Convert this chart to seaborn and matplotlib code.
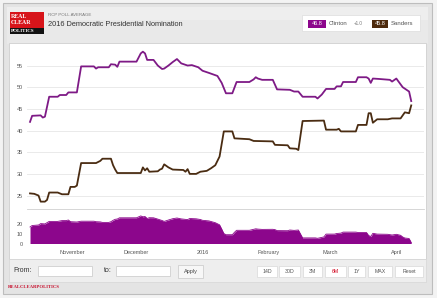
import numpy as np
import pandas as pd
import matplotlib
matplotlib.use("Agg")
import matplotlib.pyplot as plt
import matplotlib.dates as mdates
from matplotlib.patches import Rectangle
import seaborn as sns

# ---------------- data ----------------
clinton_dates = ["2015-10-12", "2015-10-13", "2015-10-17", "2015-10-18", "2015-10-19", "2015-10-21",
                 "2015-10-25", "2015-10-26", "2015-10-29", "2015-10-30", "2015-11-03", "2015-11-05",
                 "2015-11-11", "2015-11-12", "2015-11-13", "2015-11-18", "2015-11-19", "2015-11-21",
                 "2015-11-22", "2015-11-23", "2015-12-01", "2015-12-03", "2015-12-04", "2015-12-05",
                 "2015-12-06", "2015-12-09", "2015-12-11", "2015-12-13", "2015-12-14", "2015-12-16",
                 "2015-12-18", "2015-12-20", "2015-12-22", "2015-12-25", "2015-12-27", "2015-12-30",
                 "2016-01-01", "2016-01-04", "2016-01-08", "2016-01-10", "2016-01-12", "2016-01-15",
                 "2016-01-17", "2016-01-23", "2016-01-25", "2016-01-26", "2016-01-27", "2016-01-29",
                 "2016-02-03", "2016-02-05", "2016-02-11", "2016-02-13", "2016-02-15", "2016-02-17",
                 "2016-02-23", "2016-02-24", "2016-02-26", "2016-02-28", "2016-03-03", "2016-03-04",
                 "2016-03-06", "2016-03-07", "2016-03-13", "2016-03-14", "2016-03-18", "2016-03-19",
                 "2016-03-20", "2016-03-21", "2016-03-24", "2016-03-29", "2016-03-30", "2016-04-01",
                 "2016-04-04", "2016-04-07", "2016-04-08"]
clinton_values = [42.0, 43.4, 43.5, 43.0, 43.2, 47.8,
                  47.8, 48.2, 48.2, 48.8, 48.8, 54.8,
                  54.8, 54.3, 54.6, 54.6, 55.3, 55.2,
                  54.7, 55.9, 55.9, 57.8, 58.2, 57.8,
                  56.3, 56.3, 55.0, 54.2, 54.3, 55.0,
                  55.8, 56.5, 55.5, 55.0, 55.1, 54.6,
                  53.8, 53.3, 52.6, 51.0, 48.6, 48.6,
                  51.2, 51.2, 51.8, 52.3, 52.0, 51.7,
                  51.7, 49.5, 49.4, 49.0, 49.0, 47.8,
                  47.8, 47.4, 48.3, 49.6, 49.6, 50.2,
                  50.2, 51.2, 51.2, 52.3, 52.3, 52.0,
                  51.0, 52.0, 51.9, 51.7, 51.3, 52.0,
                  50.0, 49.0, 46.8]

sanders_dates = ["2015-10-12", "2015-10-14", "2015-10-16", "2015-10-17", "2015-10-19", "2015-10-20",
                 "2015-10-21", "2015-10-25", "2015-10-27", "2015-10-30", "2015-10-31", "2015-11-02",
                 "2015-11-03", "2015-11-05", "2015-11-12", "2015-11-14", "2015-11-15", "2015-11-19",
                 "2015-11-20", "2015-11-21", "2015-11-22", "2015-12-03", "2015-12-04", "2015-12-05",
                 "2015-12-06", "2015-12-07", "2015-12-11", "2015-12-12", "2015-12-13", "2015-12-14",
                 "2015-12-16", "2015-12-18", "2015-12-23", "2015-12-24", "2015-12-25", "2015-12-26",
                 "2015-12-29", "2015-12-31", "2016-01-03", "2016-01-05", "2016-01-07", "2016-01-09",
                 "2016-01-11", "2016-01-15", "2016-01-16", "2016-01-23", "2016-01-25", "2016-02-03",
                 "2016-02-04", "2016-02-10", "2016-02-11", "2016-02-14", "2016-02-15", "2016-02-17",
                 "2016-02-27", "2016-02-28", "2016-03-04", "2016-03-05", "2016-03-06", "2016-03-13",
                 "2016-03-14", "2016-03-18", "2016-03-19", "2016-03-20", "2016-03-21", "2016-03-23",
                 "2016-03-28", "2016-03-30", "2016-04-03", "2016-04-04", "2016-04-05", "2016-04-07",
                 "2016-04-08"]
sanders_values = [25.5, 25.4, 25.0, 23.6, 23.6, 24.0,
                  25.7, 25.7, 25.3, 25.3, 27.0, 27.0,
                  27.3, 32.5, 32.5, 33.0, 33.5, 33.5,
                  32.0, 31.0, 30.2, 30.2, 31.5, 30.8,
                  31.3, 30.5, 30.6, 31.0, 31.2, 32.2,
                  31.5, 31.0, 30.9, 30.5, 31.1, 30.0,
                  30.0, 30.5, 30.7, 31.3, 32.0, 34.0,
                  39.8, 39.8, 38.2, 38.0, 37.6, 37.5,
                  36.7, 36.6, 35.9, 35.8, 35.5, 42.2,
                  42.3, 40.2, 40.2, 40.4, 39.8, 39.8,
                  41.3, 41.3, 44.0, 44.0, 41.8, 42.6,
                  42.6, 42.8, 42.8, 43.5, 44.2, 44.0,
                  45.8]

spread_dates = ["2015-10-12", "2015-10-13", "2015-10-16", "2015-10-17", "2015-10-19", "2015-10-21",
                "2015-10-25", "2015-10-27", "2015-10-29", "2015-10-30", "2015-10-31", "2015-11-03",
                "2015-11-05", "2015-11-11", "2015-11-12", "2015-11-14", "2015-11-15", "2015-11-18",
                "2015-11-19", "2015-11-20", "2015-11-21", "2015-11-22", "2015-11-23", "2015-12-01",
                "2015-12-03", "2015-12-04", "2015-12-05", "2015-12-06", "2015-12-07", "2015-12-09",
                "2015-12-11", "2015-12-13", "2015-12-14", "2015-12-16", "2015-12-18", "2015-12-20",
                "2015-12-22", "2015-12-25", "2015-12-26", "2015-12-29", "2015-12-31", "2016-01-01",
                "2016-01-04", "2016-01-05", "2016-01-07", "2016-01-09", "2016-01-10", "2016-01-11",
                "2016-01-12", "2016-01-15", "2016-01-16", "2016-01-17", "2016-01-23", "2016-01-25",
                "2016-01-26", "2016-01-27", "2016-01-29", "2016-02-03", "2016-02-04", "2016-02-05",
                "2016-02-10", "2016-02-11", "2016-02-13", "2016-02-15", "2016-02-17", "2016-02-23",
                "2016-02-24", "2016-02-26", "2016-02-27", "2016-02-28", "2016-03-03", "2016-03-04",
                "2016-03-06", "2016-03-07", "2016-03-13", "2016-03-14", "2016-03-18", "2016-03-19",
                "2016-03-20", "2016-03-21", "2016-03-23", "2016-03-28", "2016-03-30", "2016-04-01",
                "2016-04-03", "2016-04-04", "2016-04-05", "2016-04-07", "2016-04-08"]
spread_values = [16.5, 18.0, 18.5, 19.9, 19.6, 22.1,
                 22.1, 22.9, 22.9, 23.5, 21.8, 21.5,
                 22.3, 22.3, 21.8, 21.6, 21.1, 21.1,
                 21.8, 23.2, 24.2, 24.5, 25.7, 25.7,
                 27.6, 26.7, 27.0, 25.0, 25.8, 25.7,
                 24.4, 23.0, 22.1, 23.5, 24.8, 25.5,
                 24.6, 23.9, 25.0, 24.7, 24.0, 23.2,
                 22.6, 22.0, 20.8, 18.7, 14.5, 10.0,
                 8.8, 8.8, 11.2, 13.2, 13.2, 14.2,
                 14.7, 14.4, 14.1, 14.2, 13.9, 12.9,
                 12.8, 13.5, 13.1, 13.5, 5.6, 5.6,
                 5.2, 6.1, 6.6, 9.4, 9.4, 10.0,
                 10.4, 11.4, 11.4, 11.0, 11.0, 8.0,
                 7.0, 10.2, 9.4, 9.2, 8.5, 9.2,
                 8.2, 6.5, 5.5, 5.0, 1.0]

month_ticks = ["2015-11-01", "2015-12-01", "2016-01-01", "2016-02-01", "2016-03-01", "2016-04-01"]
month_labels = ["November", "December", "2016", "February", "March", "April"]
main_yticks = [25, 30, 35, 40, 45, 50, 55]
spread_yticks = [0, 10, 20]
header_small = "RCP POLL AVERAGE"
header_title = "2016 Democratic Presidential Nomination"
clinton_latest = "46.8"
sanders_latest = "45.8"
clinton_lead = "+1.0"
range_buttons = ["14D", "30D", "3M", "6M", "1Y", "MAX", "Reset"]

# ---------------- styling ----------------
C_CLINTON = "#7e1a86"
C_SANDERS = "#4a2c12"
C_AREA = "#8c068c"
plt.rcParams["font.family"] = ["Liberation Sans", "DejaVu Sans"]

W, H = 437, 298
fig = plt.figure(figsize=(W / 100, H / 100), dpi=100, facecolor="#f3f3f3")


def frect(x0, y0, x1, y1, z=-5, **kw):
    r = Rectangle((x0 / W, 1 - y1 / H), (x1 - x0) / W, (y1 - y0) / H,
                  transform=fig.transFigure, zorder=z, **kw)
    fig.add_artist(r)
    return r


def ftext(x, y, s, **kw):
    kw.setdefault("va", "center")
    kw.setdefault("ha", "left")
    fig.text(x / W, 1 - y / H, s, **kw)


def fbox(x0, y0, x1, y1):
    return [x0 / W, 1 - y1 / H, (x1 - x0) / W, (y1 - y0) / H]


# panels
frect(3, 3, 432, 294, facecolor="#e4e4e4", edgecolor="#bdbdbd", linewidth=0.8, z=-10)
frect(7, 7, 428, 44, facecolor="#e9e9e9", edgecolor="none", z=-9)
frect(7, 7, 428, 20, facecolor="#eeeeee", edgecolor="none", z=-8)
frect(9, 43, 426, 259, facecolor="white", edgecolor="#cfcfcf", linewidth=0.6, z=-7)
frect(9, 259, 426, 282, facecolor="#eeeeee", edgecolor="#d5d5d5", linewidth=0.5, z=-7)

# logo
frect(10, 12, 44, 34, facecolor="#d7141a", edgecolor="none", z=2)
frect(10, 28, 44, 34, facecolor="#111111", edgecolor="none", z=3)
ftext(11, 16.5, "REAL", color="white", fontsize=4.2, family="Liberation Serif", fontweight="bold", zorder=4)
ftext(11, 23, "CLEAR", color="white", fontsize=4.2, family="Liberation Serif", fontweight="bold", zorder=4)
ftext(11, 31.2, "POLITICS", color="white", fontsize=3.6, family="Liberation Serif", fontweight="bold", zorder=4)

# header texts
ftext(48, 15.5, header_small, color="#777777", fontsize=3.2)
ftext(48, 25, header_title, color="#333333", fontsize=5.3)

# legend box
frect(302, 15, 420, 31, facecolor="white", edgecolor="#dddddd", linewidth=0.5, z=1)
frect(308, 19.5, 326, 27.5, facecolor=C_AREA, edgecolor="none", z=2)
ftext(317, 23.6, clinton_latest, color="white", fontsize=4, ha="center", zorder=3)
ftext(329, 23.6, "Clinton", color="#555555", fontsize=4.3, zorder=3)
ftext(354, 23.8, clinton_lead, color="#777777", fontsize=3.3, zorder=3)
frect(372, 19.5, 388, 27.5, facecolor="#4d2a0c", edgecolor="none", z=2)
ftext(380, 23.6, sanders_latest, color="white", fontsize=4, ha="center", zorder=3)
ftext(391, 23.6, "Sanders", color="#555555", fontsize=4.3, zorder=3)

# x limits (dates)
xlim = (mdates.date2num(pd.Timestamp("2015-10-10 14:00")),
        mdates.date2num(pd.Timestamp("2016-04-14 00:00")))

# ---------------- main chart ----------------
ax = fig.add_axes(fbox(27, 43, 424, 209))
ax.set_facecolor("none")
df_c = pd.DataFrame({"date": pd.to_datetime(clinton_dates), "value": clinton_values})
df_s = pd.DataFrame({"date": pd.to_datetime(sanders_dates), "value": sanders_values})
sns.lineplot(data=df_c, x="date", y="value", ax=ax, color=C_CLINTON, linewidth=1.3, zorder=3)
sns.lineplot(data=df_s, x="date", y="value", ax=ax, color=C_SANDERS, linewidth=1.3, zorder=3)
ax.set_xlim(*xlim)
ax.set_ylim(21.9, 60.2)
ax.set_yticks(main_yticks)
ax.set_yticklabels([str(v) for v in main_yticks])
ax.set_xticks([])
ax.grid(axis="y", color="#e6e6e6", linewidth=0.6)
ax.set_axisbelow(True)
ax.tick_params(axis="y", length=0, pad=3, labelsize=4, labelcolor="#555555")
ax.set_xlabel("")
ax.set_ylabel("")
for side in ["top", "left", "right"]:
    ax.spines[side].set_visible(False)
ax.spines["bottom"].set_color("#d0d0d0")
ax.spines["bottom"].set_linewidth(0.6)

# ---------------- spread (navigator) chart ----------------
ax2 = fig.add_axes(fbox(27, 212.5, 424, 243.5))
ax2.set_facecolor("none")
sd = pd.to_datetime(spread_dates)
ax2.fill_between(sd, 0, spread_values, color=C_AREA, linewidth=0, zorder=2)
sns.lineplot(x=sd, y=spread_values, ax=ax2, color=C_AREA, linewidth=0.6, zorder=3)
ax2.set_xlim(*xlim)
ax2.set_ylim(0, 31)
ax2.set_yticks(spread_yticks)
ax2.set_yticklabels([str(v) for v in spread_yticks])
ax2.set_xticks(mdates.date2num(pd.to_datetime(month_ticks)))
ax2.set_xticklabels(month_labels)
ax2.tick_params(axis="both", length=0, labelsize=4, labelcolor="#555555")
ax2.tick_params(axis="y", pad=3)
ax2.tick_params(axis="x", pad=5)
ax2.set_xlabel("")
ax2.set_ylabel("")
for side in ["top", "left", "right", "bottom"]:
    ax2.spines[side].set_visible(False)

# ---------------- control bar ----------------
ftext(13, 270.5, "From:", color="#333333", fontsize=5)
frect(38, 266, 92, 276, facecolor="white", edgecolor="#c8c8c8", linewidth=0.5, z=1)
ftext(104, 270.5, "to:", color="#333333", fontsize=5)
frect(116, 266, 170, 276, facecolor="white", edgecolor="#c8c8c8", linewidth=0.5, z=1)
frect(178, 264.5, 203, 277.5, facecolor="#f7f7f7", edgecolor="#c8c8c8", linewidth=0.5, z=1)
ftext(190.5, 271, "Apply", color="#444444", fontsize=4, ha="center")

btn_x = [(257, 277), (279, 300), (303, 322), (325, 346), (348, 365), (368, 392), (395, 423)]
for label, (x0, x1) in zip(range_buttons, btn_x):
    frect(x0, 265.5, x1, 277, facecolor="white", edgecolor="#d8d8d8", linewidth=0.5, z=1)
    col = "#d0021b" if label == "6M" else "#555555"
    ftext((x0 + x1) / 2, 271.3, label, color=col, fontsize=3.8, ha="center")
    if label == "6M":
        frect(x0 + 2, 277.6, x1 - 2, 278.4, facecolor="#d0021b", edgecolor="none", z=2)

# footer
ftext(8, 286.5, "REALCLEARPOLITICS", color="#c8102e", fontsize=3.4,
      family="Liberation Serif", fontweight="bold")

fig.savefig("out.png", dpi=100, facecolor=fig.get_facecolor())
